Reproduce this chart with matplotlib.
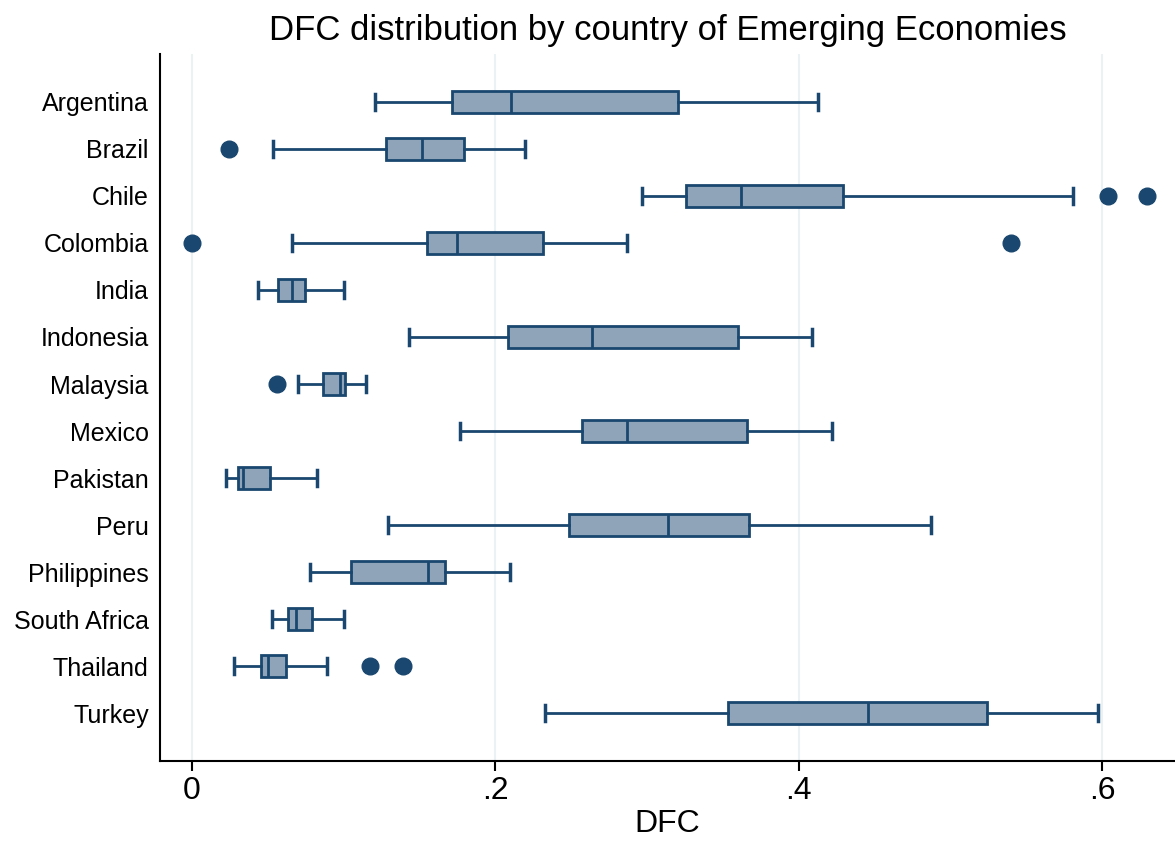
"""
DFC distribution by country - horizontal box plot
"""
import matplotlib
matplotlib.use('Agg')
import matplotlib.pyplot as plt

countries = ['Argentina', 'Brazil', 'Chile', 'Colombia', 'India', 'Indonesia',
             'Malaysia', 'Mexico', 'Pakistan', 'Peru', 'Philippines',
             'South Africa', 'Thailand', 'Turkey']

# whisker low, q1, median, q3, whisker high
whislo = [0.1207, 0.0534, 0.2968, 0.0660, 0.0435, 0.1431, 0.0699, 0.1768,
          0.0224, 0.1293, 0.0778, 0.0528, 0.0277, 0.2328]
q1 = [0.1715, 0.1280, 0.3259, 0.1550, 0.0567, 0.2084, 0.0864, 0.2573,
      0.0303, 0.2487, 0.1049, 0.0633, 0.0455, 0.3536]
med = [0.2104, 0.1517, 0.3621, 0.1748, 0.0660, 0.2639, 0.0976, 0.2870,
       0.0336, 0.3140, 0.1557, 0.0686, 0.0501, 0.4459]
q3 = [0.3206, 0.1794, 0.4294, 0.2315, 0.0745, 0.3602, 0.1009, 0.3660,
      0.0515, 0.3674, 0.1669, 0.0792, 0.0620, 0.5244]
whishi = [0.4130, 0.2197, 0.5805, 0.2870, 0.1003, 0.4090, 0.1148, 0.4220,
          0.0825, 0.4875, 0.2098, 0.1003, 0.0890, 0.5970]
outliers = [[], [0.0244], [0.6036, 0.6293], [0.0, 0.5396], [], [], [0.0560],
            [], [], [], [], [], [0.1174, 0.1392], []]

edge = '#1a476f'
fill = '#8fa4b9'

stats = []
for i, name in enumerate(countries):
    stats.append({'label': name, 'whislo': whislo[i], 'q1': q1[i], 'med': med[i],
                  'q3': q3[i], 'whishi': whishi[i], 'fliers': outliers[i]})

plt.rcParams['font.family'] = ['Liberation Sans', 'DejaVu Sans']

fig = plt.figure(figsize=(11.75, 8.41), dpi=100)
ax = fig.add_axes([0.136, 0.0951, 0.864, 0.8407])

positions = list(range(1, len(countries) + 1))
ax.bxp(stats, positions=positions, vert=False, widths=0.47, capwidths=0.33,
       patch_artist=True,
       boxprops=dict(facecolor=fill, edgecolor=edge, linewidth=2),
       medianprops=dict(color=edge, linewidth=2),
       whiskerprops=dict(color=edge, linewidth=2),
       capprops=dict(color=edge, linewidth=2.5),
       flierprops=dict(marker='o', markerfacecolor=edge, markeredgecolor=edge,
                       markersize=12))

ax.set_ylim(15.02, -0.02)
ax.set_xlim(-0.0211, 0.648)
ax.set_yticks(positions)
ax.set_yticklabels(countries, fontsize=18)
ax.tick_params(axis='y', length=0, pad=8)
ax.set_xticks([0, 0.2, 0.4, 0.6])
ax.set_xticklabels(['0', '.2', '.4', '.6'], fontsize=23)
ax.tick_params(axis='x', length=7, width=1.5, pad=4)

ax.grid(axis='x', color='#eaf2f3', linewidth=1.5)
ax.set_axisbelow(True)
for side in ['top', 'right']:
    ax.spines[side].set_visible(False)
for side in ['left', 'bottom']:
    ax.spines[side].set_linewidth(1.5)

ax.set_xlabel('DFC', fontsize=23, labelpad=2)
ax.set_title('DFC distribution by country of Emerging Economies', fontsize=25, pad=10)

plt.savefig('out.png', dpi=100)
plt.close()
